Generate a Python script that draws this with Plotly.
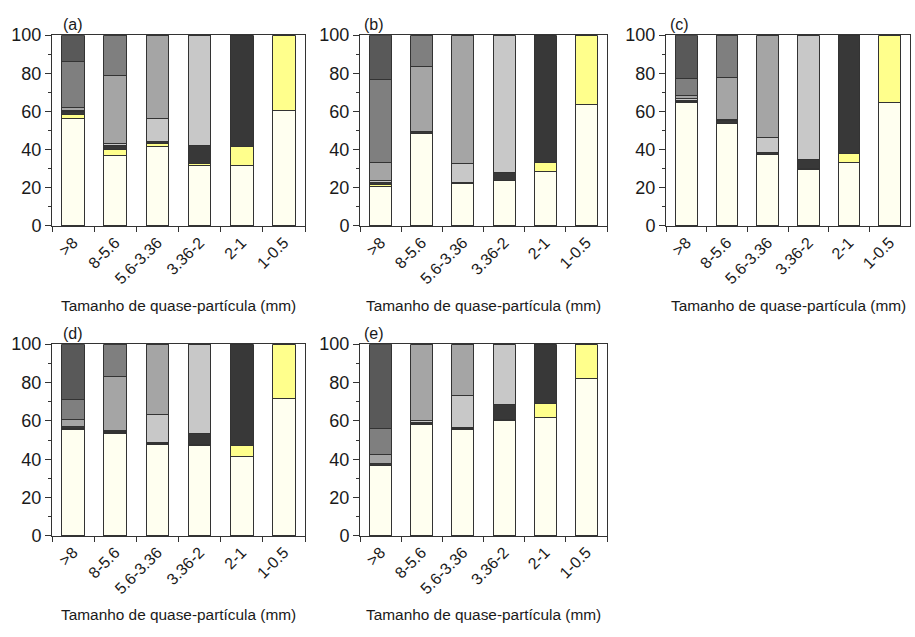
import plotly.graph_objects as go

categories = [">8", "8-5.6", "5.6-3.36", "3.36-2", "2-1", "1-0.5"]
series_names = ["1-0.5", "2-1", "3.36-2", "5.6-3.36", "8-5.6", ">8 (a)", ">8 (b)"]
colors = ["#fffff0", "#ffff8c", "#383838", "#c8c8c8", "#a5a5a5", "#7f7f7f", "#595959"]

# layer thickness (%) per series, bottom to top, for each panel
a_cream = [56.3, 37.2, 41.7, 31.8, 31.6, 60.3]
a_yellow = [2.0, 2.8, 1.4, 0.8, 10.0, 39.7]
a_black = [1.5, 2.2, 1.2, 9.5, 58.4, 0]
a_light = [0.7, 1.2, 12.1, 57.9, 0, 0]
a_mid = [1.7, 35.7, 43.6, 0, 0, 0]
a_gray = [24.1, 20.9, 0, 0, 0, 0]
a_dark = [13.7, 0, 0, 0, 0, 0]

b_cream = [20.6, 48.5, 22.1, 23.8, 28.4, 63.9]
b_yellow = [1.2, 0.2, 0.2, 0.3, 4.7, 36.1]
b_black = [1.2, 0.6, 0.7, 3.8, 66.9, 0]
b_light = [0.8, 0.3, 9.9, 72.1, 0, 0]
b_mid = [9.5, 33.8, 67.1, 0, 0, 0]
b_gray = [43.4, 16.6, 0, 0, 0, 0]
b_dark = [23.3, 0, 0, 0, 0, 0]

c_cream = [64.5, 53.5, 37.3, 29.6, 33.3, 64.5]
c_yellow = [0.7, 0.3, 0.2, 0.3, 4.5, 35.5]
c_black = [0.8, 1.4, 0.8, 4.7, 62.2, 0]
c_light = [1.0, 0.5, 8.3, 65.4, 0, 0]
c_mid = [1.5, 22.3, 53.4, 0, 0, 0]
c_gray = [8.7, 22.0, 0, 0, 0, 0]
c_dark = [22.8, 0, 0, 0, 0, 0]

d_cream = [55.3, 53.4, 47.8, 47.3, 41.2, 71.8]
d_yellow = [0.6, 0.8, 0.2, 0.3, 5.9, 28.2]
d_black = [1.0, 0.4, 0.6, 5.9, 52.9, 0]
d_light = [0.3, 0.6, 14.6, 46.5, 0, 0]
d_mid = [3.3, 27.9, 36.8, 0, 0, 0]
d_gray = [10.6, 16.9, 0, 0, 0, 0]
d_dark = [28.9, 0, 0, 0, 0, 0]

e_cream = [36.7, 58.3, 55.4, 60.0, 62.0, 81.9]
e_yellow = [0.2, 0.2, 0.5, 0.6, 7.1, 18.1]
e_black = [0.8, 0.8, 0.9, 8.2, 30.9, 0]
e_light = [0.2, 0.7, 16.3, 31.2, 0, 0]
e_mid = [4.8, 40.0, 26.9, 0, 0, 0]
e_gray = [13.2, 0, 0, 0, 0, 0]
e_dark = [44.1, 0, 0, 0, 0, 0]

panels = [
    ("(a)", [a_cream, a_yellow, a_black, a_light, a_mid, a_gray, a_dark]),
    ("(b)", [b_cream, b_yellow, b_black, b_light, b_mid, b_gray, b_dark]),
    ("(c)", [c_cream, c_yellow, c_black, c_light, c_mid, c_gray, c_dark]),
    ("(d)", [d_cream, d_yellow, d_black, d_light, d_mid, d_gray, d_dark]),
    ("(e)", [e_cream, e_yellow, e_black, e_light, e_mid, e_gray, e_dark]),
]

W, H = 915, 637
# plot areas in pixels: (x0, x1, ytop, ybottom)
boxes = [
    (52, 305, 26, 223),
    (360, 607, 26, 223),
    (666, 910, 26, 223),
    (52, 305, 345, 543),
    (360, 607, 345, 543),
]
label_pos = [(73, 15), (374, 15), (679, 15), (73, 334), (374, 334)]
title_y = [305, 305, 305, 624, 624]

FONT = "Liberation Sans, Arial, sans-serif"
TXT = "#1a1a1a"
LINE = "#333333"

fig = go.Figure()
layout = dict(
    width=W, height=H, margin=dict(l=0, r=0, t=0, b=0),
    paper_bgcolor="white", plot_bgcolor="white",
    barmode="stack", bargap=0.465, showlegend=False,
    font=dict(family=FONT, color=TXT),
    annotations=[],
)

for i, (lab, layers) in enumerate(panels):
    n = i + 1
    xa = "x" if n == 1 else f"x{n}"
    ya = "y" if n == 1 else f"y{n}"
    for s, vals in enumerate(layers):
        fig.add_trace(go.Bar(
            x=categories, y=vals, xaxis=xa, yaxis=ya,
            name=series_names[s],
            marker=dict(color=colors[s], line=dict(color=LINE, width=1)),
            hoverinfo="x+y+name",
        ))
    x0, x1, yt, yb = boxes[i]
    xkey = "xaxis" if n == 1 else f"xaxis{n}"
    ykey = "yaxis" if n == 1 else f"yaxis{n}"
    layout[xkey] = dict(
        domain=[x0 / W, x1 / W], anchor=ya, type="category",
        categoryorder="array", categoryarray=categories,
        tickson="boundaries", ticks="outside", ticklen=5, tickcolor=LINE,
        tickangle=-45, tickfont=dict(size=16, family=FONT, color=TXT),
        showline=True, linecolor=LINE, linewidth=1, mirror=True,
        showgrid=False, zeroline=False, fixedrange=True,
    )
    layout[ykey] = dict(
        domain=[1 - yb / H, 1 - yt / H], anchor=xa,
        range=[0, 100], tickmode="linear", tick0=0, dtick=20,
        ticks="outside", ticklen=6, tickcolor=LINE,
        minor=dict(dtick=10, ticks="outside", ticklen=3, tickcolor=LINE, showgrid=False),
        tickfont=dict(size=18, family=FONT, color=TXT),
        showline=True, linecolor=LINE, linewidth=1, mirror=True,
        showgrid=False, zeroline=False, fixedrange=True,
    )
    lx, ly = label_pos[i]
    layout["annotations"].append(dict(
        text=lab, x=lx / W, y=1 - ly / H, xref="paper", yref="paper",
        showarrow=False, font=dict(size=16, family=FONT, color=TXT),
        xanchor="center", yanchor="middle",
    ))
    layout["annotations"].append(dict(
        text="Tamanho de quase-partícula (mm)",
        x=(x0 + x1) / 2 / W, y=1 - title_y[i] / H, xref="paper", yref="paper",
        showarrow=False, font=dict(size=15.4, family=FONT, color=TXT),
        xanchor="center", yanchor="middle",
    ))

fig.update_layout(**layout)
fig.write_html("out.html")
